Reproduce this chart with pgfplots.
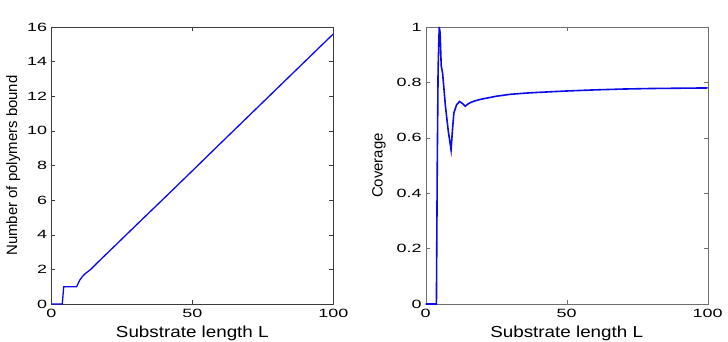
\documentclass[border=0pt]{standalone}
\usepackage{pgfplots}
\usepackage{pgfplotstable}
\pgfplotsset{compat=1.18}
\usepackage{fontspec}
\setmainfont{Liberation Sans}

\definecolor{curve}{RGB}{10,10,235}
\definecolor{frameA}{RGB}{60,60,60}
\definecolor{frameB}{RGB}{110,110,110}

% number of polymers bound against substrate length
\pgfplotstableread{
L    N
0    0
3.9  0
4.4  1
9.0  1
10.0 1.36
11.0 1.58
12.0 1.75
14.0 2.00
16.0 2.33
20.0 2.96
30.0 4.54
40.0 6.11
50.0 7.69
60.0 9.28
70.0 10.86
80.0 12.44
90.0 14.02
100.0 15.6
}\boundData

% fractional coverage against substrate length
\pgfplotstableread{
L    C
0    0
3.8  0
3.9  0.17
4.1  0.50
4.4  0.85
4.8  1.00
5.1  0.98
5.5  0.86
6.0  0.833
7.0  0.714
8.0  0.625
9.0  0.556
9.5  0.63
10.0 0.69
11.0 0.72
12.0 0.731
13.0 0.724
14.0 0.714
15.0 0.722
16.0 0.728
18.0 0.735
20.0 0.740
25.0 0.750
30.0 0.757
35.0 0.761
40.0 0.764
50.0 0.769
60.0 0.773
70.0 0.776
80.0 0.778
90.0 0.779
100.0 0.780
}\coverageData

\pgfplotsset{
  panel/.style={
    scale only axis,
    width=282bp, height=277bp,
    xmin=0, xmax=100,
    xtick={0,50,100},
    tick align=inside,
    tick pos=both,
    major tick length=4bp,
    clip=false,
    xticklabel={\scalebox{1.5}[1]{\pgfmathprintnumber[assume math mode=true]{\tick}}},
    yticklabel={\scalebox{1.5}[1]{\pgfmathprintnumber[assume math mode=true]{\tick}}},
    xticklabel style={font=\fontsize{12}{12}\selectfont, anchor=north, inner sep=0pt, yshift=-5bp},
    yticklabel style={font=\fontsize{12}{12}\selectfont, anchor=east, inner sep=0pt, xshift=-4bp},
    xlabel style={font=\fontsize{16}{16}\selectfont, at={(axis description cs:0.5,0)}, anchor=base, yshift=-33bp},
    ylabel style={font=\fontsize{15}{15}\selectfont, anchor=center},
    xlabel={\scalebox{1.18}[1]{Substrate length L}},
  },
}

\begin{document}
\begin{tikzpicture}
\begin{axis}[panel,
    name=left,
    axis line style={frameA}, every tick/.style={frameA},
    ymin=0, ymax=16,
    ytick={0,2,...,16},
    ylabel={Number of polymers bound},
    ylabel style={at={(axis description cs:-0.135,0.5)}},
  ]
  \addplot[curve, line width=1.3bp] table[x=L, y=N] {\boundData};
\end{axis}

\begin{axis}[panel,
    at={(374.4bp,0)},
    axis line style={frameB}, every tick/.style={frameB},
    ymin=0, ymax=1,
    ytick={0,0.2,...,1},
    ylabel={Coverage},
    ylabel style={at={(axis description cs:-0.166,0.5)}},
  ]
  \addplot[curve, line width=1.6bp] table[x=L, y=C] {\coverageData};
\end{axis}

\pgfresetboundingbox
\path[use as bounding box] (-51.3bp,-38bp) rectangle (676.7bp,304bp);
\end{tikzpicture}
\end{document}
